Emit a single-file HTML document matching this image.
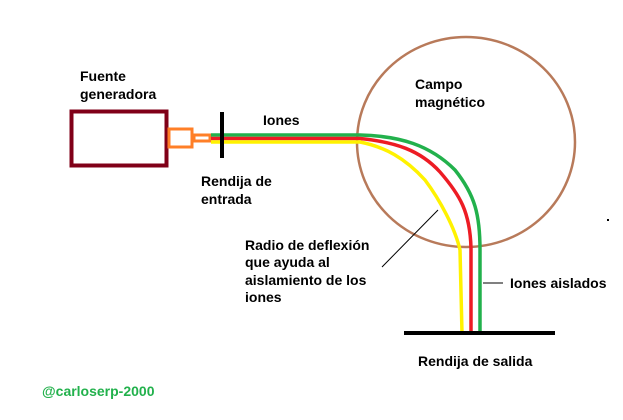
<!DOCTYPE html>
<html><head><style>
body{margin:0;background:#fff;width:623px;height:415px;overflow:hidden}
svg text{font-family:"Liberation Sans",Arial,sans-serif;font-weight:bold;font-size:14px;fill:#000}
</style></head><body>
<svg width="623" height="415" viewBox="0 0 623 415">
<ellipse cx="466" cy="142" rx="109" ry="105" fill="none" stroke="#b87a5a" stroke-width="2.5"/>
<rect x="71.5" y="111.5" width="95" height="54" fill="none" stroke="#800018" stroke-width="4"/>
<rect x="169" y="129" width="23" height="18" fill="none" stroke="#ff7f27" stroke-width="3"/>
<rect x="194" y="135" width="16" height="6" fill="none" stroke="#ff7f27" stroke-width="3"/>
<path d="M211 135 L360 135 C400 136 430 145 455 170 C475 195 480 215 480 250 L480 333" fill="none" stroke="#22b14c" stroke-width="3.5"/>
<path d="M211 138.5 L360 138.5 C395 142 420 150 440 172 C460 195 470 212 471 248 L471 333" fill="none" stroke="#ed1c24" stroke-width="3.5"/>
<path d="M211 142 L360 142 C385 147 405 158 425 180 C440 200 455 228 460 250 L462 333" fill="none" stroke="#fff200" stroke-width="3.5"/>
<rect x="220" y="112" width="4" height="46" fill="#000"/>
<rect x="404" y="331" width="151" height="4" fill="#000"/>
<line x1="438" y1="210" x2="382" y2="267" stroke="#000" stroke-width="1"/>
<line x1="483" y1="283" x2="503" y2="283" stroke="#000" stroke-width="1"/>
<rect x="607" y="219" width="2" height="2" fill="#000"/>
<text x="80" y="81">Fuente</text>
<text x="80" y="99">generadora</text>
<text x="263" y="125">Iones</text>
<text x="201" y="186">Rendija de</text>
<text x="201" y="204">entrada</text>
<text x="415" y="89">Campo</text>
<text x="415" y="107">magnético</text>
<text x="245" y="250">Radio de deflexión</text>
<text x="245" y="267">que ayuda al</text>
<text x="245" y="285">aislamiento de los</text>
<text x="245" y="302">iones</text>
<text x="510" y="288">Iones aislados</text>
<text x="418" y="366">Rendija de salida</text>
<text x="42" y="396" style="fill:#22b14c">@carloserp-2000</text>
</svg>
</body></html>
